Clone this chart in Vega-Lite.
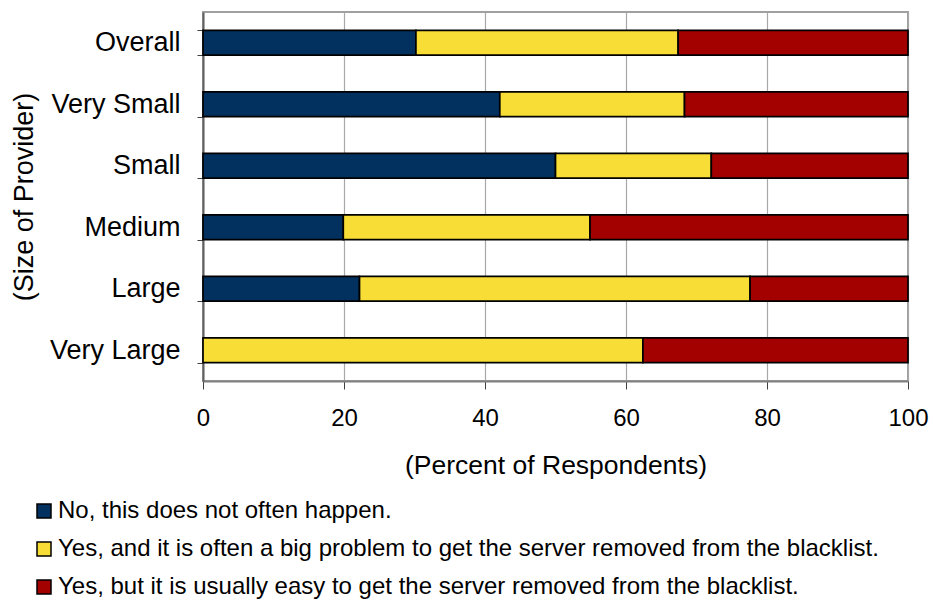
{
  "$schema": "https://vega.github.io/schema/vega-lite/v6.json",
  "autosize": "none",
  "padding": {"left": 203, "top": 12, "right": 25, "bottom": 220},
  "width": 705,
  "height": 369,
  "background": "white",
  "config": {
    "font": "Liberation Sans",
    "view": {"stroke": "#A0A0A0", "strokeWidth": 2}
  },
  "data": {
    "values": [
      {"size": "Overall", "response": "No, this does not often happen.", "percent": 30.2},
      {"size": "Overall", "response": "Yes, and it is often a big problem to get the server removed from the blacklist.", "percent": 37.2},
      {"size": "Overall", "response": "Yes, but it is usually easy to get the server removed from the blacklist.", "percent": 32.6},
      {"size": "Very Small", "response": "No, this does not often happen.", "percent": 42.1},
      {"size": "Very Small", "response": "Yes, and it is often a big problem to get the server removed from the blacklist.", "percent": 26.2},
      {"size": "Very Small", "response": "Yes, but it is usually easy to get the server removed from the blacklist.", "percent": 31.7},
      {"size": "Small", "response": "No, this does not often happen.", "percent": 50.0},
      {"size": "Small", "response": "Yes, and it is often a big problem to get the server removed from the blacklist.", "percent": 22.1},
      {"size": "Small", "response": "Yes, but it is usually easy to get the server removed from the blacklist.", "percent": 27.9},
      {"size": "Medium", "response": "No, this does not often happen.", "percent": 19.9},
      {"size": "Medium", "response": "Yes, and it is often a big problem to get the server removed from the blacklist.", "percent": 35.0},
      {"size": "Medium", "response": "Yes, but it is usually easy to get the server removed from the blacklist.", "percent": 45.1},
      {"size": "Large", "response": "No, this does not often happen.", "percent": 22.2},
      {"size": "Large", "response": "Yes, and it is often a big problem to get the server removed from the blacklist.", "percent": 55.4},
      {"size": "Large", "response": "Yes, but it is usually easy to get the server removed from the blacklist.", "percent": 22.4},
      {"size": "Very Large", "response": "Yes, and it is often a big problem to get the server removed from the blacklist.", "percent": 62.4},
      {"size": "Very Large", "response": "Yes, but it is usually easy to get the server removed from the blacklist.", "percent": 37.6}
    ]
  },
  "mark": {"type": "bar", "stroke": "#000000", "strokeWidth": 1.7},
  "encoding": {
    "y": {
      "field": "size",
      "type": "nominal",
      "sort": ["Overall", "Very Small", "Small", "Medium", "Large", "Very Large"],
      "scale": {"paddingInner": 0.6, "paddingOuter": 0.3},
      "axis": {
        "title": "(Size of Provider)",
        "titleFontSize": 27,
        "titleFontWeight": "normal",
        "titleColor": "#000000",
        "titlePadding": 11,
        "labelFontSize": 27,
        "labelColor": "#000000",
        "labelPadding": 17,
        "tickSize": 6,
        "tickBand": "extent",
        "tickColor": "#404040",
        "domainColor": "#606060",
        "domainWidth": 2,
        "grid": false
      }
    },
    "x": {
      "field": "percent",
      "type": "quantitative",
      "stack": "zero",
      "scale": {"domain": [0, 100], "nice": false},
      "axis": {
        "title": "(Percent of Respondents)",
        "titleFontSize": 26.5,
        "titleFontWeight": "normal",
        "titleColor": "#000000",
        "titlePadding": 22,
        "values": [0, 20, 40, 60, 80, 100],
        "labelFontSize": 24,
        "labelColor": "#000000",
        "labelPadding": 17,
        "labelFlush": false,
        "labelOverlap": false,
        "tickSize": 8,
        "tickColor": "#404040",
        "domainColor": "#808080",
        "domainWidth": 2,
        "grid": true,
        "gridColor": "#A8A8A8",
        "gridWidth": 1.2
      }
    },
    "color": {
      "field": "response",
      "type": "nominal",
      "scale": {
        "domain": [
          "No, this does not often happen.",
          "Yes, and it is often a big problem to get the server removed from the blacklist.",
          "Yes, but it is usually easy to get the server removed from the blacklist."
        ],
        "range": ["#02305F", "#F7DD35", "#A30000"]
      },
      "legend": {
        "title": null,
        "orient": "none",
        "legendX": -171,
        "legendY": 487,
        "direction": "vertical",
        "symbolType": "square",
        "symbolSize": 196,
        "symbolStrokeColor": "#000000",
        "symbolStrokeWidth": 1.5,
        "symbolOpacity": 1,
        "labelFontSize": 24,
        "labelColor": "#000000",
        "labelOffset": 2,
        "labelLimit": 900,
        "rowPadding": 14
      }
    }
  }
}
